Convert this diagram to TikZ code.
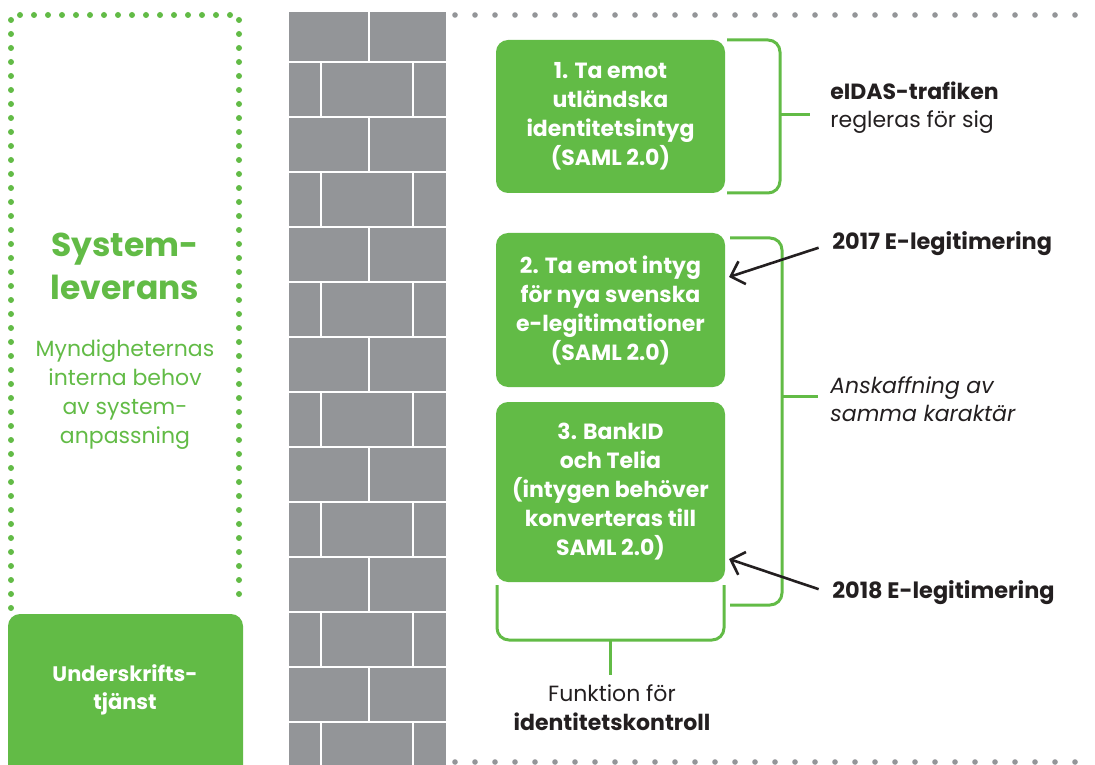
\documentclass[tikz,border=0pt]{standalone}
\usepackage{fontspec}
\setmainfont{Poppins}
\usetikzlibrary{arrows.meta}
\definecolor{gron}{RGB}{98,187,70}
\definecolor{mur}{RGB}{147,149,152}
\definecolor{svart}{RGB}{35,31,32}
\tikzset{
  ruta/.style={fill=gron, rounded corners=6pt, text=white, align=center,
    font=\bfseries\fontsize{11}{14.5}\selectfont, minimum width=114.5pt},
  klammer/.style={draw=gron, line width=1.5pt, rounded corners=6pt},
  etikett/.style={text=svart, align=left, anchor=west, inner sep=1pt,
    font=\fontsize{11}{14}\selectfont},
  pil/.style={draw=svart, line width=1.3pt, shorten <=6pt,
    -{Straight Barb[length=6pt,width=12pt]}},
  prickar/.style={line width=#1, line cap=round, dash pattern=on 0pt off 10pt},
}
\begin{document}
\begin{tikzpicture}[x=0.5pt,y=-0.5pt]
  \useasboundingbox (0,0) rectangle (1095,764);
  \clip (0,0) rectangle (1095,764);

  % muren
  \fill[mur] (289,12) rectangle (446,770);
  \foreach \y in {62,117,...,722}
    \draw[white, line width=1.25pt] (289,\y) -- (446,\y);
  \foreach \y [count=\i] in {12,62,117,172,227,282,337,392,447,502,557,612,667,722}{
    \pgfmathsetmacro{\ny}{\i==1 ? 62 : (\i==14 ? 770 : \y+55)}
    \ifodd\i
      \draw[white, line width=1.25pt] (369,\y) -- (369,\ny);
    \else
      \draw[white, line width=1.25pt] (321,\y) -- (321,\ny);
      \draw[white, line width=1.25pt] (413,\y) -- (413,\ny);
    \fi
  }

  % prickade linjer
  \draw[mur, prickar=2.8pt] (455,15) -- (1090,15);
  \draw[mur, prickar=2.8pt] (455,762) -- (1095,762);
  \draw[gron, line width=3pt, line cap=round, dash pattern=on 0pt off 7pt]
    (11,608) -- (11,26) -- (11,15) -- (239,15) -- (239,608);

  % vänster sida
  \node[text=gron, align=center, font=\bfseries\fontsize{16.5}{21.5}\selectfont]
    (sys) at (125,266) {System-\\leverans};
  \node[text=gron, align=center, font=\fontsize{11}{14.5}\selectfont]
    (behov) at (125,395) {Myndigheternas\\interna behov\\av system-\\anpassning};
  \fill[gron, rounded corners=6pt] (8,614) rectangle (243,800);
  \node[text=white, align=center, font=\bfseries\fontsize{10.5}{14}\selectfont]
    (skrift) at (125,690) {Underskrifts-\\tjänst};

  % rutor
  \node[ruta, minimum height=76.5pt] (r1) at (610.5,116.5)
    {1. Ta emot\\utländska\\identitetsintyg\\(SAML 2.0)};
  \node[ruta, minimum height=77pt] (r2) at (610.5,310)
    {2. Ta emot intyg\\för nya svenska\\e-legitimationer\\(SAML 2.0)};
  \node[ruta, minimum height=90pt] (r3) at (610.5,492)
    {3. BankID\\och Telia\\(intygen behöver\\konverteras till\\SAML 2.0)};

  % klamrar
  \draw[klammer] (727,40) -- (780,40) -- (780,193) -- (727,193);
  \draw[gron, line width=1.5pt] (780,115) -- (810,115);
  \draw[klammer] (730,238) -- (782,238) -- (782,605) -- (730,605);
  \draw[gron, line width=1.5pt] (782,396) -- (818,396);
  \draw[klammer] (497,585) -- (497,640) -- (724,640) -- (724,585);
  \draw[gron, line width=1.5pt] (610,640) -- (610,675);

  % etiketter
  \node[etikett] (eidas) at (828,107.5) {\textbf{eIDAS-trafiken}\\regleras för sig};
  \node[etikett] (ansk) at (828,399) {\itshape Anskaffning av\\\itshape samma karaktär};
  \node[etikett, font=\bfseries\fontsize{11.2}{14}\selectfont] (l2017) at (830,244) {2017 E-legitimering};
  \node[etikett, font=\bfseries\fontsize{11.2}{14}\selectfont] (l2018) at (830,593) {2018 E-legitimering};
  \node[text=svart, align=center, font=\fontsize{11}{14.5}\selectfont]
    (funk) at (612,707.5) {Funktion för\\\textbf{identitetskontroll}};

  \coordinate (p1) at (729,277);
  \coordinate (p2) at (729,559);
  \draw[pil] (l2017.west) -- (p1);
  \draw[pil] (l2018.west) -- (p2);
\end{tikzpicture}
\end{document}
